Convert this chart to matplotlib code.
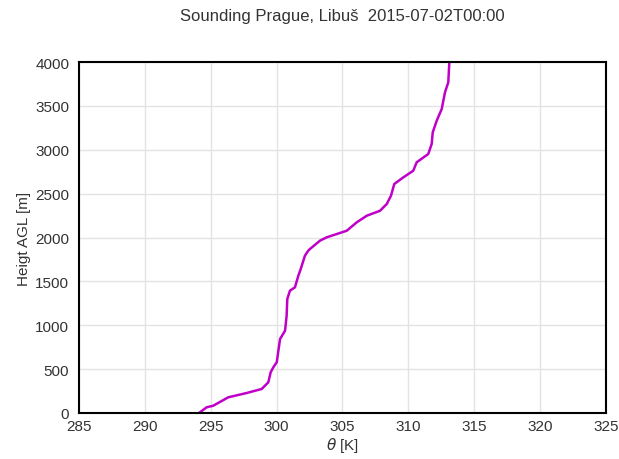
import matplotlib
matplotlib.use("Agg")
import matplotlib.pyplot as plt

plt.rcParams['font.family'] = ['Liberation Sans', 'DejaVu Sans']

theta = [294.1, 294.18, 294.69, 295.19, 296.33, 297.73, 298.87, 299.37, 299.55, 299.75,
         300.01, 300.26, 300.64, 300.76, 300.81, 301.01, 301.39, 301.65, 301.83, 302.15,
         302.40, 302.53, 303.29, 303.80, 305.32, 306.08, 306.84, 307.85, 308.36, 308.68,
         308.93, 309.62, 310.37, 310.63, 311.51, 311.77, 311.85, 312.15, 312.53, 312.78,
         313.03, 313.11]
height = [0, 8, 65, 83, 179, 228, 274, 350, 464, 521,
          578, 843, 938, 1109, 1299, 1394, 1432, 1565, 1641, 1793,
          1850, 1869, 1964, 2002, 2077, 2173, 2248, 2305, 2382, 2476,
          2610, 2686, 2761, 2857, 2952, 3066, 3199, 3331, 3464, 3655,
          3769, 4000]

fig = plt.figure(figsize=(6.19, 4.6), dpi=100)
ax = fig.add_axes([0.1276, 0.1, 0.8514, 0.763])
ax.plot(theta, height, color='#c000c8', lw=1.8)

ax.set_xlim(285, 325)
ax.set_ylim(0, 4000)
ax.set_xticks(range(285, 326, 5))
ax.set_yticks(range(0, 4001, 500))
ax.grid(True, color='#e3e3e3', lw=1)
ax.set_axisbelow(True)
ax.tick_params(length=0, labelsize=11, colors='#333333')
ax.tick_params(axis='x', pad=4)
ax.tick_params(axis='y', pad=7)
for s in ax.spines.values():
    s.set_linewidth(1.5)
    s.set_color('black')

ax.set_xlabel(r'$\theta$ [K]', fontsize=11, color='#333333', labelpad=2)
ax.set_ylabel('Heigt AGL [m]', fontsize=11, color='#333333', labelpad=3)
ax.set_title('Sounding Prague, Libuš  2015-07-02T00:00', fontsize=12, color='#333333', pad=30)

fig.savefig('out.png', dpi=100)
